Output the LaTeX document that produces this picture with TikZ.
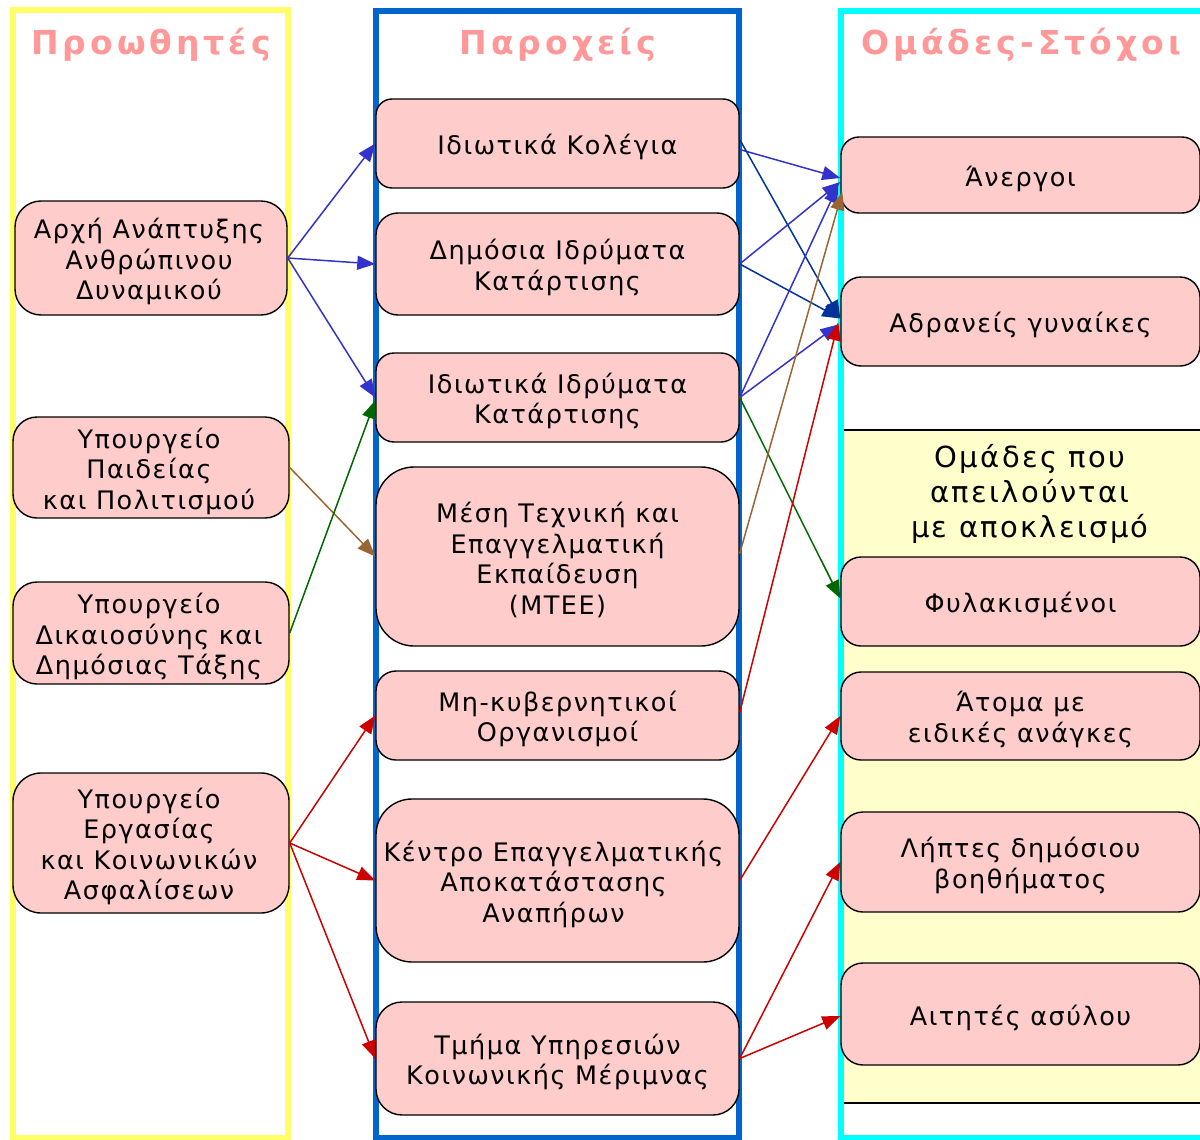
\documentclass[tikz,border=0pt]{standalone}
\usepackage{fontspec}
\setmainfont{DejaVu Sans}
\newfontfamily\boxfont[LetterSpace=6]{DejaVu Sans}
\newfontfamily\panelfont[LetterSpace=8]{DejaVu Sans}
\newfontfamily\headfont[LetterSpace=12]{DejaVu Sans Bold}
\usetikzlibrary{arrows.meta,calc}
\definecolor{colyellow}{HTML}{FFFF66}
\definecolor{colblue}{HTML}{0066CC}
\definecolor{colcyan}{HTML}{00FFFF}
\definecolor{boxpink}{HTML}{FFCCCC}
\definecolor{headpink}{HTML}{FF9999}
\definecolor{panelyellow}{HTML}{FFFFCC}
\definecolor{lblue}{HTML}{3333CC}
\definecolor{dblue}{HTML}{003399}
\definecolor{lbrown}{HTML}{996633}
\definecolor{lgreen}{HTML}{006600}
\definecolor{lred}{HTML}{CC0000}
\begin{document}
\begin{tikzpicture}[x=1pt,y=-1pt,
  box/.style={draw=black,line width=1.4pt,fill=boxpink,inner sep=0pt},
  lbl/.style={align=center,inner sep=0pt,font=\boxfont\fontsize{25.5}{30.5}\selectfont},
  head/.style={text=headpink,anchor=base,inner sep=0pt,font=\headfont\fontsize{33}{38}\selectfont},
  conn/.style={line width=1.5pt,-{Triangle[length=18pt,width=14pt]}},
  colframe/.style={line width=6.5pt}]
\useasboundingbox (0,0) rectangle (1200,1140);
\clip (0,0) rectangle (1200,1140);
\fill[white] (0,0) rectangle (1200,1140);
% columns
\draw[colframe,draw=colyellow] (13,10) rectangle (288,1138);
\fill[panelyellow] (841,430) rectangle (1210,1103);
\draw[line width=1.4pt] (841,430) -- (1210,430);
\draw[line width=1.4pt] (841,1103) -- (1210,1103);
\draw[colframe,draw=colblue] (376,11) rectangle (739,1138);
\draw[colframe,draw=colcyan] (841,11) rectangle (1215,1138);
% headers
\node[head] (h1) at (151,55) {Προωθητές};
\node[head] (h2) at (558,55) {Παροχείς};
\node[head] (h3) at (1021,55) {Ομάδες-Στόχοι};
% panel text
\node[align=center,inner sep=0pt,font=\panelfont\fontsize{29}{35}\selectfont] (ptxt) at (1030,494) {Ομάδες που\\απειλούνται\\με αποκλεισμό};
% left boxes
\node[box,minimum width=272,minimum height=114,rounded corners=26] (a1) at (151,258) {};
\node[lbl] (a1t) at ($(a1.center)+(-2,3.5)$) {Αρχή Ανάπτυξης\\Ανθρώπινου\\Δυναμικού};
\node[box,minimum width=276,minimum height=101,rounded corners=24] (a2) at (151,467.5) {};
\node[lbl] (a2t) at ($(a2.center)+(-2,3.5)$) {Υπουργείο\\Παιδείας\\και Πολιτισμού};
\node[box,minimum width=276,minimum height=102,rounded corners=24] (a3) at (151,633) {};
\node[lbl] (a3t) at ($(a3.center)+(-2,3.5)$) {Υπουργείο\\Δικαιοσύνης και\\Δημόσιας Τάξης};
\node[box,minimum width=276,minimum height=140,rounded corners=28] (a4) at (151,843) {};
\node[lbl] (a4t) at ($(a4.center)+(-2,3.5)$) {Υπουργείο\\Εργασίας\\και Κοινωνικών\\Ασφαλίσεων};
% middle boxes
\node[box,minimum width=363,minimum height=89,rounded corners=16] (m1) at (557.5,143.5) {};
\node[lbl] (m1t) at ($(m1.center)+(0,3.5)$) {Ιδιωτικά Κολέγια};
\node[box,minimum width=363,minimum height=102,rounded corners=22] (m2) at (557.5,264) {};
\node[lbl] (m2t) at ($(m2.center)+(0,3.5)$) {Δημόσια Ιδρύματα\\Κατάρτισης};
\node[box,minimum width=363,minimum height=89,rounded corners=18] (m3) at (557.5,397.5) {};
\node[lbl] (m3t) at ($(m3.center)+(0,3.5)$) {Ιδιωτικά Ιδρύματα\\Κατάρτισης};
\node[box,minimum width=363,minimum height=179,rounded corners=38] (m4) at (557.5,556.5) {};
\node[lbl] (m4t) at ($(m4.center)+(0,3.5)$) {Μέση Τεχνική και\\Επαγγελματική\\Εκπαίδευση\\(ΜΤΕΕ)};
\node[box,minimum width=363,minimum height=89,rounded corners=20] (m5) at (557.5,715.5) {};
\node[lbl] (m5t) at ($(m5.center)+(0,3.5)$) {Μη-κυβερνητικοί\\Οργανισμοί};
\node[box,minimum width=363,minimum height=163,rounded corners=36] (m6) at (557.5,880.5) {};
\node[lbl] (m6t) at ($(m6.center)+(-4,3.5)$) {Κέντρο Επαγγελματικής\\Αποκατάστασης\\Αναπήρων};
\node[box,minimum width=363,minimum height=113,rounded corners=26] (m7) at (557.5,1058.5) {};
\node[lbl] (m7t) at ($(m7.center)+(0,3.5)$) {Τμήμα Υπηρεσιών\\Κοινωνικής Μέριμνας};
% right boxes
\node[box,minimum width=359,minimum height=76,rounded corners=18] (r1) at (1020.5,175) {};
\node[lbl] (r1t) at ($(r1.center)+(0,3.5)$) {Άνεργοι};
\node[box,minimum width=359,minimum height=89,rounded corners=20] (r2) at (1020.5,321.5) {};
\node[lbl] (r2t) at ($(r2.center)+(0,3.5)$) {Αδρανείς γυναίκες};
\node[box,minimum width=359,minimum height=89,rounded corners=20] (r3) at (1020.5,601.5) {};
\node[lbl] (r3t) at ($(r3.center)+(0,3.5)$) {Φυλακισμένοι};
\node[box,minimum width=359,minimum height=88,rounded corners=20] (r4) at (1020.5,716) {};
\node[lbl] (r4t) at ($(r4.center)+(0,3.5)$) {Άτομα με\\ειδικές ανάγκες};
\node[box,minimum width=359,minimum height=100,rounded corners=22] (r5) at (1020.5,862) {};
\node[lbl] (r5t) at ($(r5.center)+(0,3.5)$) {Λήπτες δημόσιου\\βοηθήματος};
\node[box,minimum width=359,minimum height=102,rounded corners=22] (r6) at (1020.5,1014) {};
\node[lbl] (r6t) at ($(r6.center)+(0,3.5)$) {Αιτητές ασύλου};
% connectors left -> middle
\draw[conn,lblue] (a1.east) -- (m1.west);
\draw[conn,lblue] (a1.east) -- (m2.west);
\draw[conn,lblue] (a1.east) -- (m3.west);
\draw[conn,lbrown] (a2.east) -- (m4.west);
\draw[conn,lgreen] (a3.east) -- ($(m3.west)+(0,3)$);
\draw[conn,lred] (a4.east) -- (m5.west);
\draw[conn,lred] (a4.east) -- (m6.west);
\draw[conn,lred] (a4.east) -- (m7.west);
% connectors middle -> right
\draw[conn,lblue] ($(m1.east)+(0,6)$) -- ($(r1.west)+(0,3)$);
\draw[conn,dblue] ($(m1.east)+(0,-4)$) -- ($(r2.west)+(0,-3)$);
\draw[conn,lblue] (m2.east) -- ($(r1.west)+(0,7)$);
\draw[conn,dblue] (m2.east) -- ($(r2.west)+(0,-3)$);
\draw[conn,lblue] (m3.east) -- ($(r1.west)+(-2,10)$);
\draw[conn,lblue] (m3.east) -- ($(r2.west)+(-2,3)$);
\draw[conn,lgreen] (m3.east) -- ($(r3.west)+(0,-3)$);
\draw[conn,lbrown] ($(m4.east)+(0,-3)$) -- ($(r1.west)+(2,17)$);
\draw[conn,lred] ($(m5.east)+(0,-3)$) -- ($(r2.west)+(-2,1)$);
\draw[conn,lred] (m6.east) -- (r4.west);
\draw[conn,lred] (m7.east) -- (r5.west);
\draw[conn,lred] (m7.east) -- ($(r6.west)+(0,2)$);
\end{tikzpicture}
\end{document}
